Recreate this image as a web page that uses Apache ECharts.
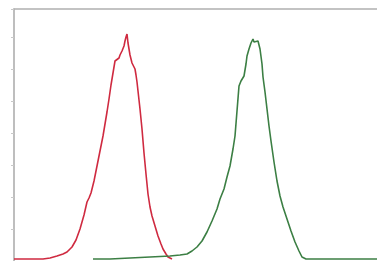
<!DOCTYPE html>
<html><head><meta charset="utf-8">
<script src="https://cdn.jsdelivr.net/npm/echarts@6/dist/echarts.min.js"></script>
<style>html,body{margin:0;padding:0;background:#fff}#c{width:377px;height:261px}</style>
</head><body><div id="c"></div>
<script>
// Channel (x) and count (y) for the two histograms
const redX = [0,16,29,36,43,49,53,58,62,66,70,73,75,77,80,83,86,89,91,93,95,97,98,100,101,103,105,106,108,109,110,111,112,113,114,115,116,117,118,119,120,121,122,123,124,125,126,127,128,129,130,132,134,136,138,141,144,147,149,152,154,158];
const redY = [2,2,2,3,5,7,9,14,21,32,46,59,63,68,80,95,110,125,137,149,162,176,182,194,200,202,203,206,210,212,215,220,224,227,218,212,206,202,198,196,199,192,186,179,170,161,152,142,132,120,108,87,67,54,45,35,25,17,12,7,4,2];
const greenX = [79,96,116,136,156,166,173,178,183,188,193,198,203,206,210,213,216,219,221,223,225,227,230,232,233,235,237,238,239,240,241,242,244,245,246,248,249,251,253,255,257,260,263,266,269,273,277,281,285,288,292,363];
const greenY = [2,2,3,4,5,6,7,10,14,20,29,40,52,62,72,84,95,112,125,150,175,180,185,197,205,212,218,220,222,219,217,218,220,219,212,197,184,169,152,135,120,99,80,65,54,42,30,19,10,4,2,2];
const yTicks = {min: 0, max: 252, interval: 32};

const pairs = (xs, ys) => xs.map((x, i) => [x, ys[i]]);
const chart = echarts.init(document.getElementById('c'), null, {renderer: 'canvas'});
chart.setOption({
  animation: false,
  backgroundColor: '#fff',
  grid: {left: 14, right: 0, top: 9, bottom: 0, show: false},
  xAxis: [
    {type: 'value', min: 0, max: 363, show: false},
    {type: 'value', min: 0, max: 363, position: 'top',
      axisLine: {show: true, lineStyle: {color: '#b0b0b0', width: 1.5}},
      axisTick: {show: false}, axisLabel: {show: false}, splitLine: {show: false}}
  ],
  yAxis: {type: 'value', min: yTicks.min, max: yTicks.max, interval: yTicks.interval,
    axisLine: {show: true, lineStyle: {color: '#a8a8a8', width: 1.5}},
    axisTick: {show: true, length: 3, lineStyle: {color: '#c8c8c8'}},
    axisLabel: {show: false}, splitLine: {show: false}},
  series: [
    {type: 'line', data: pairs(redX, redY), showSymbol: false, lineStyle: {color: '#cf2a40', width: 1.6}, z: 2},
    {type: 'line', data: pairs(greenX, greenY), showSymbol: false, lineStyle: {color: '#3c7f44', width: 1.6}, z: 3}
  ]
});
</script></body></html>
